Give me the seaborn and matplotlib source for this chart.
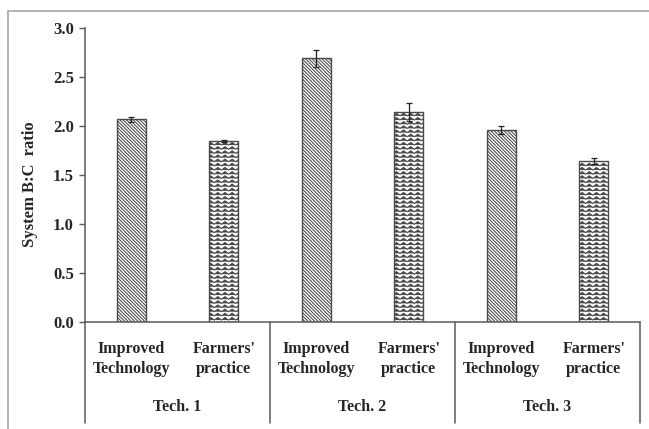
import warnings
import numpy as np
import pandas as pd
import matplotlib
matplotlib.use("Agg")
import matplotlib.pyplot as plt
import matplotlib.hatch as mhatch
import matplotlib.transforms as mtransforms
from matplotlib.lines import Line2D
from matplotlib.path import Path
import seaborn as sns

warnings.filterwarnings("ignore")

# ---- data -------------------------------------------------------------
groups = ["Tech. 1", "Tech. 2", "Tech. 3"]
treatments = ["Improved\nTechnology", "Farmers'\npractice"]
bc_ratio = [2.07, 1.85, 2.69, 2.14, 1.96, 1.64]
bc_err = [0.025, 0.01, 0.09, 0.09, 0.045, 0.03]
y_ticks = [0.0, 0.5, 1.0, 1.5, 2.0, 2.5, 3.0]
y_label = "System B:C  ratio"


# ---- wavy hatch pattern ('~') -----------------------------------------
class WaveHatch(mhatch.HatchPatternBase):
    def __init__(self, hatch, density):
        n = hatch.count("~")
        self.num_rows = int(n * density)
        self.num_waves = 14
        self.pts = self.num_waves * 2 + 1
        self.num_vertices = self.num_rows * self.pts

    def set_vertices_and_codes(self, vertices, codes):
        xs = np.linspace(0.0, 1.0, self.pts)
        amp = 0.013
        offs = np.where(np.arange(self.pts) % 2 == 0, -amp, amp)
        for i in range(self.num_rows):
            y = (i + 0.5) / self.num_rows
            sl = slice(i * self.pts, (i + 1) * self.pts)
            vertices[sl, 0] = xs
            vertices[sl, 1] = y + offs
            codes[sl] = Path.LINETO
            codes[i * self.pts] = Path.MOVETO


mhatch._hatch_types.append(WaveHatch)

# ---- styling ----------------------------------------------------------
sns.set_theme(style="white")
plt.rcParams["font.family"] = ["Liberation Serif", "DejaVu Serif"]
plt.rcParams["font.weight"] = "bold"
plt.rcParams["hatch.linewidth"] = 0.75

text_color = "#262626"
axis_color = "#5a5a5a"

keys = [f"{g} {t}" for g in groups for t in treatments]
df = pd.DataFrame({"key": keys, "ratio": bc_ratio})

fig = plt.figure(figsize=(6.49, 4.29), dpi=100)
ax = fig.add_axes([85 / 649, 1 - 322 / 429, 555 / 649, 294 / 429])

sns.barplot(data=df, x="key", y="ratio", order=keys, color="white",
            edgecolor="#4a4a4a", linewidth=1.0, width=0.31,
            errorbar=None, ax=ax)

hatches = ["\\" * 10, "~~~~"]
for i, patch in enumerate(ax.patches):
    patch.set_facecolor("white")
    patch.set_hatch(hatches[i % 2])

ax.errorbar(np.arange(len(keys)), bc_ratio, yerr=bc_err, fmt="none",
            ecolor="#222222", elinewidth=0.9, capsize=2.5, capthick=0.9)

ax.set_xlim(-0.5, len(keys) - 0.5)
ax.set_ylim(0, 3.0)
ax.set_yticks(y_ticks)
ax.set_yticklabels([f"{v:.1f}" for v in y_ticks], fontsize=12,
                   fontweight="bold", color=text_color)
ax.set_xticks(np.arange(len(keys)))
ax.set_xticklabels([t for _ in groups for t in treatments], fontsize=11.5,
                   fontweight="bold", color=text_color, linespacing=1.28)
ax.tick_params(axis="x", length=0, pad=14)
ax.tick_params(axis="y", direction="out", length=4, width=1,
               color=axis_color, pad=4, left=True)

ax.set_xlabel("")
ax.set_ylabel(y_label, fontsize=12, fontweight="bold", color=text_color)
ax.yaxis.set_label_coords((38 - 85) / 555, (322 - 184) / 294)

for side in ["top", "right"]:
    ax.spines[side].set_visible(False)
for side in ["left", "bottom"]:
    ax.spines[side].set_color(axis_color)
    ax.spines[side].set_linewidth(1.1)

# group separators and group names below the axis
trans = mtransforms.blended_transform_factory(ax.transData, ax.transAxes)
drop = -101 / 294
for xb in [-0.5, 1.5, 3.5, 5.5]:
    ax.plot([xb, xb], [0, drop], transform=trans, clip_on=False,
            color=axis_color, lw=1.1)
for gi, g in enumerate(groups):
    ax.text(2 * gi + 0.5, (322 - 407) / 294, g, transform=trans,
            ha="center", va="center", fontsize=11.5, fontweight="bold",
            color=text_color)

# frame lines around the figure area
fy = 1 - 11 / 429
fx = 8 / 649
fig.add_artist(Line2D([fx, 1.0], [fy, fy], transform=fig.transFigure,
                      color="#a8a8a8", lw=1.2))
fig.add_artist(Line2D([fx, fx], [0.0, fy], transform=fig.transFigure,
                      color="#a8a8a8", lw=1.2))

fig.savefig("out.png", dpi=100)
